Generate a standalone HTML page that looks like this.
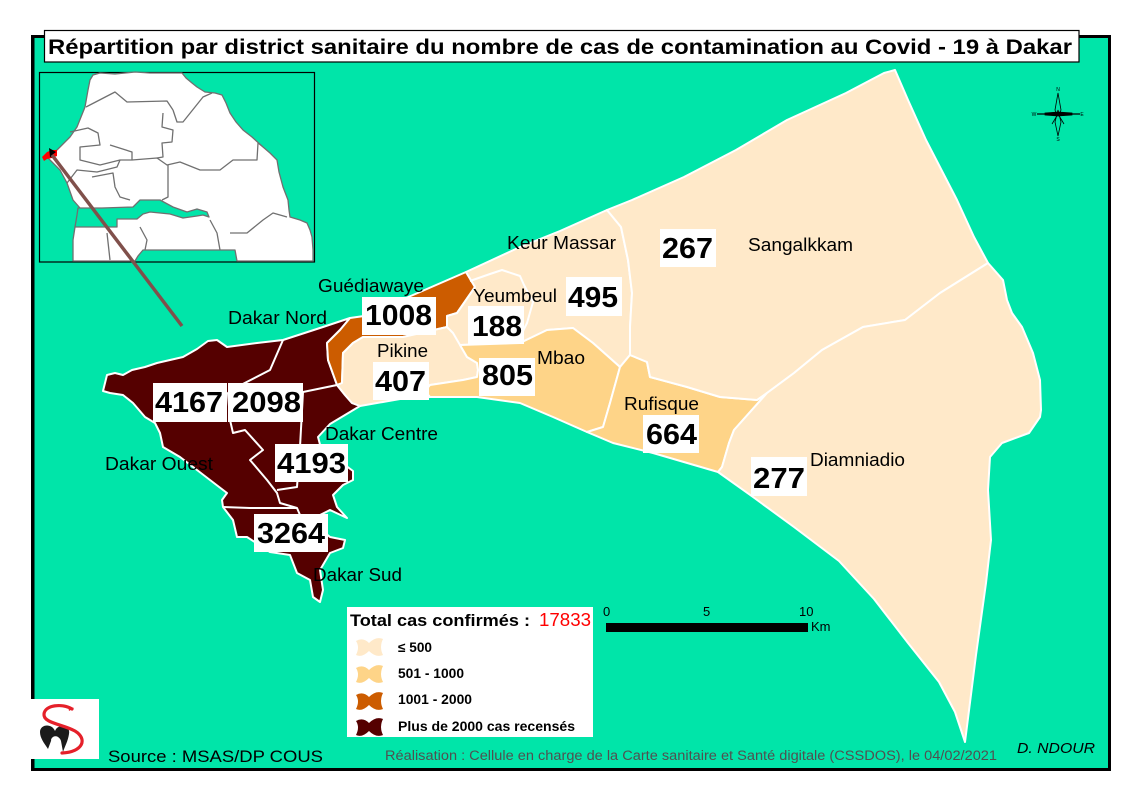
<!DOCTYPE html>
<html><head><meta charset="utf-8">
<style>
html,body{margin:0;padding:0;background:#fff}
svg{display:block}
text{font-family:"Liberation Sans",Arial,sans-serif}
</style></head>
<body>
<svg width="1122" height="794" viewBox="0 0 1122 794" xmlns="http://www.w3.org/2000/svg">
<rect x="0" y="0" width="1122" height="794" fill="#fff"/>
<!-- frame -->
<rect x="31" y="35" width="1080" height="736" fill="#000"/>
<rect x="34.5" y="38" width="1073.5" height="730" fill="#00E5A9"/>

<!-- Inset map -->
<rect x="39.5" y="72.5" width="275" height="189.5" fill="none" stroke="#000" stroke-width="1.2"/>
<g stroke="#707070" stroke-width="1.3" stroke-linejoin="round">
<polygon fill="#fff" points="93,75 100,73 115,74 135,72 150,73 182,73 186,78 192,83 197,87 205,92 215,93 222,95 226,103 230,113 236,122 243,130 252,137 263,147 270,153 277,160 279,172 283,187 288,200 289,210 290,217 300,220 307,223 310,230 312,237 313,250 313,261 237,261 235,250 143,250 138,256 135,261 73,261 73,240 75,227 80,208 73,200 67,183 60,170 50,160 47,157 57,150 70,137 77,127 85,107 88,90 90,80"/>
<polygon fill="#00E5A9" points="78,208 102,208 133,207 140,200 160,200 173,207 187,212 197,209 207,212 209,217 203,215 197,216 183,218 170,214 150,212 143,214 137,219 117,219 117,227 75,227 77,215"/>
<g fill="none">
<polyline points="86,107 115,92 127,102 167,101 173,110"/>
<polyline points="173,110 177,122 183,122 203,97 212,93"/>
<polyline points="163,113 162,127 173,130 172,142 162,143 163,157 157,158"/>
<polyline points="70,132 88,128 98,133 100,145 80,147 80,160 100,165 120,160 132,160 157,158 167,165 180,162 200,170 220,170 233,160 257,160 258,143 262,146"/>
<polyline points="110,145 132,152 132,160"/>
<polyline points="67,183 77,170 97,172 117,167 120,160"/>
<polyline points="92,177 113,173 115,187 120,197 130,200"/>
<polyline points="168,165 168,197 162,200"/>
<polyline points="107,233 110,260"/>
<polyline points="140,227 147,240 145,250"/>
<polyline points="210,220 217,233 220,250"/>
<polyline points="230,233 247,233 263,220 273,213 287,217"/>
</g>
</g>
<polygon fill="#f00" points="42,157 47,152 52,150 57,150 57,156 52,158 47,159 44,161"/>
<polygon fill="#000" points="49,148 56,152 52,155 53,158 50,157"/>
<line x1="52" y1="155" x2="182" y2="326" stroke="#80504b" stroke-width="3.5"/>

<!-- Main map -->
<g stroke="#fff" stroke-width="2" stroke-linejoin="round">
<polygon fill="#550000" points="103,391 107,375 115,373 123,375 132,370 145,367 157,363 170,360 183,357 197,349 208,341 217,340 227,347 257,343 283,340 323,327 350,318 340,330 327,343 328,360 337,385 345,395 352,403 360,406 345,415 330,424 318,437 322,452 345,465 353,471 353,480 343,485 333,495 337,507 347,518 330,510 320,515 312,522 330,537 345,540 343,548 330,553 320,570 323,590 320,602 313,597 310,580 297,573 290,555 270,552 247,537 237,537 233,520 223,507 222,500 227,493 210,480 197,470 180,457 163,447 160,433 155,423 145,417 133,403 123,395 110,393"/>
<polygon fill="#CC5C00" points="350,318 364,316 420,292 466,272 475,287 457,313 447,316 447,327 403,337 363,337 353,343 343,353 342,383 337,385 328,360 327,343 340,330"/>
<polygon fill="#FFE9C9" points="337,385 342,383 343,353 353,343 363,337 403,337 447,327 447,316 457,313 475,287 466,272 520,247 560,231 607,210 621,227 628,260 632,293 630,327 630,355 620,367 593,343 573,328 547,330 520,343 460,345 467,357 477,363 478,370 477,377 463,380 430,385 425,391 430,397 400,399 360,406 352,403 345,395"/>
<polygon fill="#FED488" points="460,345 520,343 547,330 573,328 593,343 620,367 610,403 603,427 587,432 553,417 520,403 477,397 430,397 425,391 430,385 463,380 477,377 478,370 477,363 467,357"/>
<polygon fill="#FED488" points="630,355 647,362 650,377 687,387 720,397 757,400 767,393 734,430 729,443 722,467 718,472 653,453 613,443 587,432 603,427 610,403 620,367"/>
<polygon fill="#FFE9C9" points="607,210 632,200 684,177 736,150 787,120 846,93 884,73 895,70 908,100 926,140 957,200 974,237 988,263 940,293 905,320 863,327 822,350 794,373 767,393 757,400 720,397 687,387 650,377 647,362 630,355 630,327 632,293 628,260 621,227"/>
<polygon fill="#FFE9C9" points="988,263 1003,280 1007,300 1012,313 1022,327 1033,353 1040,380 1041,410 1040,417 1029,433 1002,443 990,457 988,490 991,540 986,583 976,655 965,742 955,712 939,682 908,643 874,599 839,561 794,527 753,497 718,472 722,467 729,443 734,430 767,393 794,373 822,350 863,327 905,320 940,293"/>
<g fill="none">
<polyline points="283,340 270,370 237,387 228,393 230,420 233,433 245,430 263,450 250,460 267,480 277,493 280,503 297,508 300,515"/>
<polyline points="303,392 337,385"/>
<polyline points="303,392 300,447 297,487 277,490"/>
<polyline points="223,507 250,508 297,508"/>
<polyline points="470,281 490,274 502,270 520,276 524,285 533,302 527,323 522,333 523,343"/>
<polyline points="447,327 453,333 460,345"/>
</g>
</g>

<!-- Number labels -->
<g fill="#fff">
<rect x="362" y="297" width="74" height="38"/>
<rect x="468" y="306" width="56" height="38"/>
<rect x="566" y="277" width="56" height="39"/>
<rect x="660" y="229" width="56" height="38"/>
<rect x="373" y="362" width="56" height="38"/>
<rect x="479" y="358" width="56" height="38"/>
<rect x="643" y="415" width="56" height="38"/>
<rect x="751" y="457" width="56" height="39"/>
<rect x="153" y="383" width="74" height="39"/>
<rect x="228" y="383" width="75" height="39"/>
<rect x="275" y="444" width="73" height="38"/>
<rect x="254" y="514" width="74" height="38"/>
</g>
<g font-size="29" font-weight="bold" fill="#000">
<text x="365" y="325" textLength="67" lengthAdjust="spacingAndGlyphs">1008</text>
<text x="472" y="336" textLength="50" lengthAdjust="spacingAndGlyphs">188</text>
<text x="568" y="307" textLength="50" lengthAdjust="spacingAndGlyphs">495</text>
<text x="662" y="258" textLength="51" lengthAdjust="spacingAndGlyphs">267</text>
<text x="375" y="391" textLength="51" lengthAdjust="spacingAndGlyphs">407</text>
<text x="482" y="385" textLength="51" lengthAdjust="spacingAndGlyphs">805</text>
<text x="646" y="444" textLength="51" lengthAdjust="spacingAndGlyphs">664</text>
<text x="753" y="488" textLength="52" lengthAdjust="spacingAndGlyphs">277</text>
<text x="155" y="412" textLength="68" lengthAdjust="spacingAndGlyphs">4167</text>
<text x="232" y="412" textLength="69" lengthAdjust="spacingAndGlyphs">2098</text>
<text x="277" y="473" textLength="69" lengthAdjust="spacingAndGlyphs">4193</text>
<text x="257" y="543" textLength="68" lengthAdjust="spacingAndGlyphs">3264</text>
</g>

<!-- District names -->
<g font-size="18" fill="#000">
<text x="318" y="292" textLength="106" lengthAdjust="spacingAndGlyphs">Guédiawaye</text>
<text x="228" y="324" textLength="99" lengthAdjust="spacingAndGlyphs">Dakar Nord</text>
<text x="377" y="357" textLength="51" lengthAdjust="spacingAndGlyphs">Pikine</text>
<text x="473" y="302" textLength="84" lengthAdjust="spacingAndGlyphs">Yeumbeul</text>
<text x="507" y="249" textLength="109" lengthAdjust="spacingAndGlyphs">Keur Massar</text>
<text x="537" y="364" textLength="48" lengthAdjust="spacingAndGlyphs">Mbao</text>
<text x="624" y="410" textLength="75" lengthAdjust="spacingAndGlyphs">Rufisque</text>
<text x="748" y="251" textLength="105" lengthAdjust="spacingAndGlyphs">Sangalkkam</text>
<text x="810" y="466" textLength="95" lengthAdjust="spacingAndGlyphs">Diamniadio</text>
<text x="325" y="440" textLength="113" lengthAdjust="spacingAndGlyphs">Dakar Centre</text>
<text x="105" y="470" textLength="108" lengthAdjust="spacingAndGlyphs">Dakar Ouest</text>
<text x="313" y="581" textLength="89" lengthAdjust="spacingAndGlyphs">Dakar Sud</text>
</g>

<!-- Title -->
<rect x="44.5" y="30.5" width="1034.5" height="31.5" fill="#fff" stroke="#000" stroke-width="1.2"/>
<text x="48" y="54" font-size="21" font-weight="bold" fill="#000" textLength="1024" lengthAdjust="spacingAndGlyphs">Répartition par district sanitaire du nombre de cas de contamination au Covid - 19 à Dakar</text>

<!-- Compass -->
<g stroke="#000" stroke-width="0.8">
<line x1="1037" y1="114" x2="1080" y2="114" stroke-width="1.3"/>
<polygon fill="#00E5A9" points="1058,93 1061,110 1058,118 1055,110"/>
<polygon fill="#00E5A9" points="1058,110 1061,122 1058,136 1055,122"/>
<polygon fill="#000" points="1045,113 1058,112 1058,116 1045,115"/>
<polygon fill="#000" points="1058,112 1072,113 1072,115 1058,116"/>
<line x1="1052" y1="124" x2="1058" y2="114"/>
<line x1="1064" y1="124" x2="1058" y2="114"/>
</g>
<g font-size="5" fill="#000" text-anchor="middle">
<text x="1058" y="91">N</text>
<text x="1058" y="141">S</text>
<text x="1034" y="116">W</text>
<text x="1082" y="116">E</text>
</g>

<!-- Legend -->
<rect x="347" y="607" width="246" height="130" fill="#fff"/>
<text x="350" y="626" font-size="17" font-weight="bold" fill="#000" textLength="180" lengthAdjust="spacingAndGlyphs">Total cas confirmés :</text>
<text x="539" y="626" font-size="18" fill="#f00" textLength="52" lengthAdjust="spacingAndGlyphs">17833</text>
<g>
<path transform="translate(356,639)" fill="#FFE9C9" d="M0,2 Q7,-2 13,4 Q20,-3 27,0 Q23,8 27,16 Q20,19 13,12 Q6,19 0,16 Q4,8 0,2Z"/>
<path transform="translate(356,666)" fill="#FED488" d="M0,2 Q7,-2 13,4 Q20,-3 27,0 Q23,8 27,16 Q20,19 13,12 Q6,19 0,16 Q4,8 0,2Z"/>
<path transform="translate(356,693)" fill="#CC5C00" d="M0,2 Q7,-2 13,4 Q20,-3 27,0 Q23,8 27,16 Q20,19 13,12 Q6,19 0,16 Q4,8 0,2Z"/>
<path transform="translate(356,719)" fill="#550000" d="M0,2 Q7,-2 13,4 Q20,-3 27,0 Q23,8 27,16 Q20,19 13,12 Q6,19 0,16 Q4,8 0,2Z"/>
</g>
<g font-size="13.5" font-weight="bold" fill="#000">
<text x="398" y="652" textLength="34" lengthAdjust="spacingAndGlyphs">≤ 500</text>
<text x="398" y="678" textLength="66" lengthAdjust="spacingAndGlyphs">501 - 1000</text>
<text x="398" y="704" textLength="74" lengthAdjust="spacingAndGlyphs">1001 - 2000</text>
<text x="398" y="731" textLength="177" lengthAdjust="spacingAndGlyphs">Plus de 2000 cas recensés</text>
</g>

<!-- Scale bar -->
<rect x="606" y="623" width="202" height="9" fill="#000"/>
<g font-size="13" fill="#000">
<text x="603" y="616">0</text>
<text x="703" y="616">5</text>
<text x="799" y="616">10</text>
<text x="811" y="631">Km</text>
</g>

<!-- Logo -->
<rect x="31" y="699" width="68" height="60" fill="#fff"/>
<path d="M40,732 C40,724 52,723 55,731 C58,723 71,725 69,734 C68,741 65,746 63,752 L61,741 C60,736 52,735 51,741 L48,749 C44,743 40,738 40,732Z" fill="#1a1a1a"/>
<path d="M51,740 C52,735 59,735 60,740 L56,744Z" fill="#fff"/>
<path d="M72,709 C62,703 45,705 44,714 C43,723 62,724 75,731 C88,739 83,752 62,753" fill="none" stroke="#e5202a" stroke-width="3.2" stroke-linecap="round"/>
<path d="M68,706 L74,708 L69,711Z" fill="#e5202a"/>

<!-- Footer texts -->
<text x="108" y="762" font-size="17" fill="#000" textLength="215" lengthAdjust="spacingAndGlyphs">Source : MSAS/DP COUS</text>
<text x="385" y="760" font-size="13.5" fill="#505050" textLength="612" lengthAdjust="spacingAndGlyphs">Réalisation : Cellule en charge de la Carte sanitaire et Santé digitale (CSSDOS), le 04/02/2021</text>
<text x="1017" y="753" font-size="15" font-style="italic" fill="#000" textLength="78" lengthAdjust="spacingAndGlyphs">D. NDOUR</text>
</svg>
</body></html>
